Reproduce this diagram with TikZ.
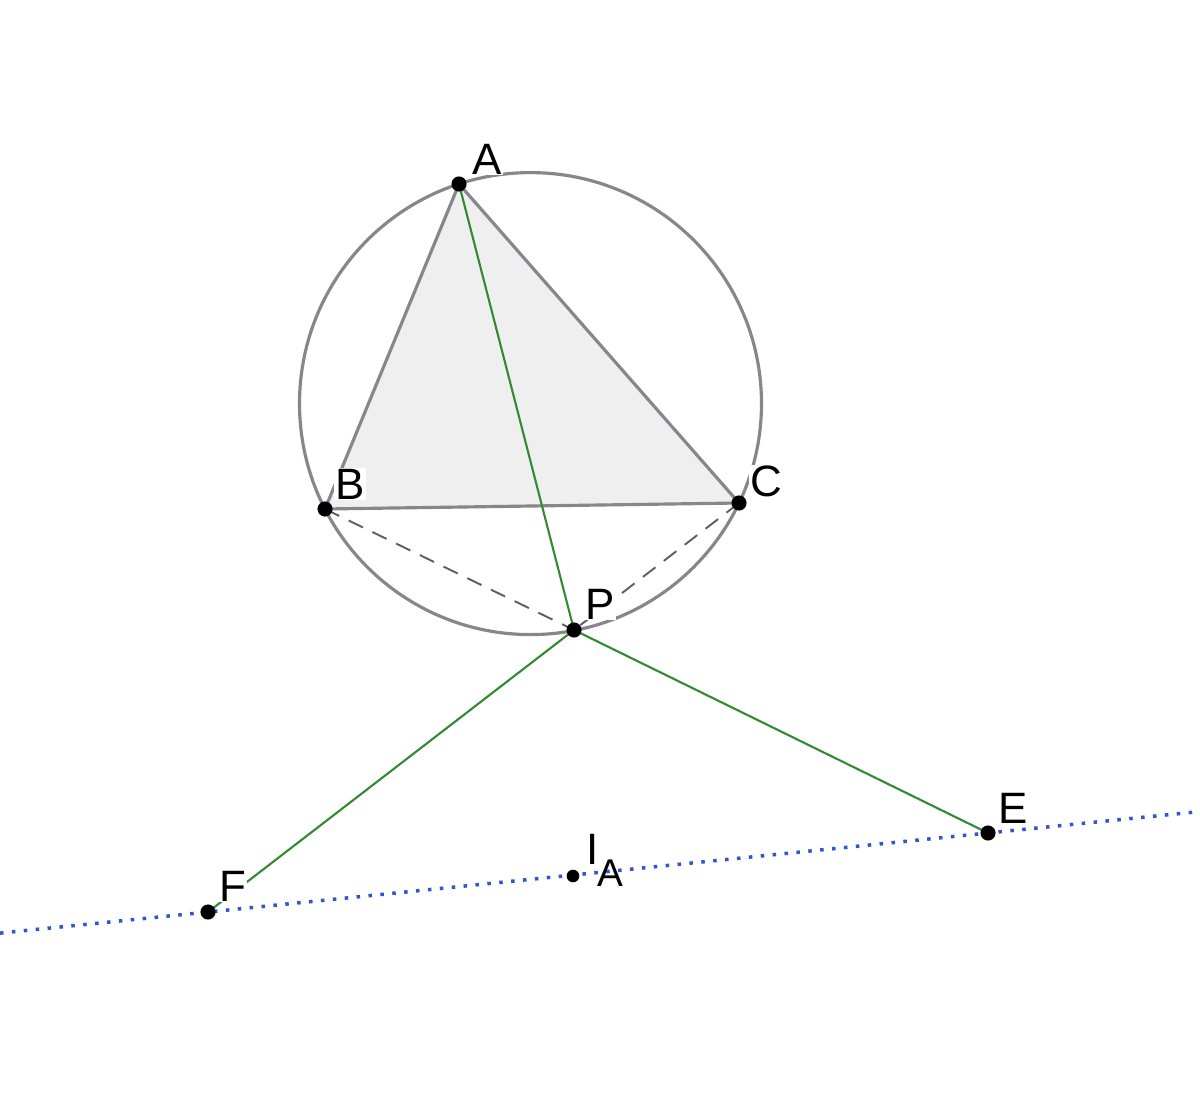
\documentclass[tikz,border=0pt]{standalone}
\usepackage{fontspec}
\setmainfont{Liberation Sans}
\definecolor{cgray}{HTML}{86868C}
\definecolor{cfill}{HTML}{EFEFEF}
\definecolor{cgreen}{HTML}{338A33}
\definecolor{cblue}{HTML}{3355CC}
\definecolor{cdash}{HTML}{606060}
\begin{document}
\begin{tikzpicture}[x=0.02cm,y=-0.02cm,
  pt/.style={circle,fill=black,inner sep=0pt,minimum size=8.6pt},
  ptsmall/.style={circle,fill=black,inner sep=0pt,minimum size=7.2pt},
  lbl/.style={font=\fontsize{25}{28}\selectfont,fill=white,inner sep=0.5pt},
  edge/.style={draw=cgray,line width=1.8pt},
  grn/.style={draw=cgreen,line width=1.2pt},
  dsh/.style={draw=cdash,line width=1.1pt,dash pattern=on 9pt off 6pt},
  dot/.style={draw=cblue,line width=2pt,dash pattern=on 2pt off 4.8pt}]
\useasboundingbox (0,0) rectangle (1200,1104);
\fill[white] (0,0) rectangle (1200,1104);
\coordinate (A) at (459,184);
\coordinate (B) at (325,509);
\coordinate (C) at (739,503);
\coordinate (P) at (574,630);
\coordinate (F) at (208,912);
\coordinate (E) at (988,833);
\coordinate (I) at (573,876);
\coordinate (O) at (530.5,403.6);
\coordinate (L1) at (0,933.1);
\coordinate (L2) at (1200,811.5);
\fill[cfill] (A) -- (B) -- (C) -- cycle;
\draw[edge] (O) circle[radius=231];
\draw[edge,line join=round] (A) -- (B) -- (C) -- cycle;
\draw[dsh] (B) -- (P);
\draw[dsh] (C) -- (P);
\draw[grn] (A) -- (P);
\draw[grn] (P) -- (F);
\draw[grn] (P) -- (E);
\draw[dot] (L1) -- (L2);
\node[pt] (nA) at (A) {};
\node[pt] (nB) at (B) {};
\node[pt] (nC) at (C) {};
\node[pt] (nP) at (P) {};
\node[pt] (nF) at (F) {};
\node[pt] (nE) at (E) {};
\node[ptsmall] (nI) at (I) {};
\node[lbl] (tA) at (487,159) {A};
\node[lbl] (tB) at (350,484) {B};
\node[lbl] (tC) at (766,481) {C};
\node[lbl] (tP) at (600,604) {P};
\node[lbl] (tF) at (233,886) {F};
\node[lbl] (tE) at (1013,808) {E};
\node[lbl,inner sep=0pt] (tI) at (593,849) {I};
\node[font=\fontsize{22}{26}\selectfont,inner sep=0pt] (tIA) at (610,873) {A};
\end{tikzpicture}
\end{document}
